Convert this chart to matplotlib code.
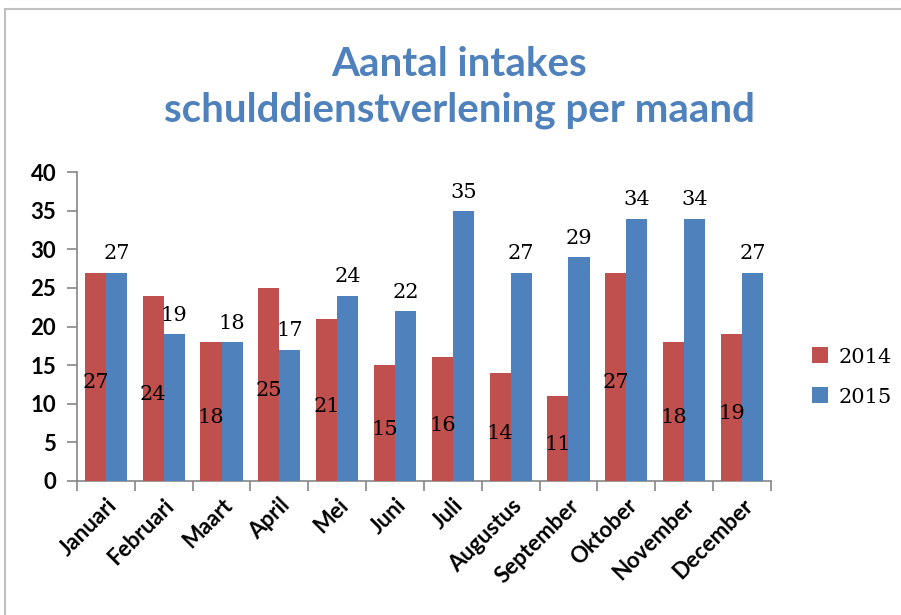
import numpy as np
import matplotlib
matplotlib.use("Agg")
import matplotlib.pyplot as plt
from matplotlib.patches import Rectangle

months = ["Januari", "Februari", "Maart", "April", "Mei", "Juni", "Juli",
          "Augustus", "September", "Oktober", "November", "December"]
vals2014 = [27, 24, 18, 25, 21, 15, 16, 14, 11, 27, 18, 19]
vals2015 = [27, 19, 18, 17, 24, 22, 35, 27, 29, 34, 34, 27]
yticks = [0, 5, 10, 15, 20, 25, 30, 35, 40]

red = "#C0504D"
blue = "#4F81BD"
grey = "#868686"

fig = plt.figure(figsize=(9.01, 6.15), dpi=100)
ax = fig.add_axes([0.0855, 0.218, 0.770, 0.502])

# chart frame (right/bottom edges are cut off in the source)
fig.patches.append(Rectangle((5 / 901, -0.1), 1.2, 1 - 9 / 615 + 0.1,
                             transform=fig.transFigure, fill=False,
                             edgecolor="#BFBFBF", linewidth=1.5))

ind = np.arange(len(months))
width = 0.365
b1 = ax.bar(ind - width / 2, vals2014, width, color=red, label="2014", zorder=3)
b2 = ax.bar(ind + width / 2, vals2015, width, color=blue, label="2015", zorder=3)

lblfont = dict(family="DejaVu Serif", fontsize=15, color="black")
for x, v in zip(ind, vals2014):
    ax.text(x - width / 2, v / 2 - 0.8, str(v), ha="center", va="center", **lblfont)
for x, v in zip(ind, vals2015):
    ax.text(x + width / 2, v + 1.2, str(v), ha="center", va="bottom", **lblfont)

ax.set_xlim(-0.5, 11.5)
ax.set_ylim(0, 40)
ax.set_yticks(yticks)
ax.set_yticklabels([str(t) for t in yticks], family="Lato", fontweight="bold", fontsize=16)
ax.set_xticks(ind)
ax.set_xticks(np.arange(-0.5, 12, 1), minor=True)
ax.set_xticklabels(months, rotation=45, ha="right", rotation_mode="anchor",
                   family="Lato", fontweight="bold", fontsize=16)
ax.tick_params(axis="x", which="major", length=0, pad=10)
ax.tick_params(axis="x", which="minor", length=7, color=grey, width=1.2)
ax.tick_params(axis="y", length=7, color=grey, width=1.2, pad=8)

for s in ["top", "right"]:
    ax.spines[s].set_visible(False)
for s in ["left", "bottom"]:
    ax.spines[s].set_color(grey)
    ax.spines[s].set_linewidth(1.2)

fig.text(0.51, 0.858, "Aantal intakes\nschulddienstverlening per maand",
         ha="center", va="center", color=blue, family="Lato", fontweight="bold",
         fontsize=29, linespacing=1.3)

fig.legend(handles=[b1, b2], labels=["2014", "2015"], loc="center left",
           bbox_to_anchor=(0.88, 0.387), frameon=False, handlelength=0.8,
           handleheight=0.8, handletextpad=0.5, labelspacing=1.0,
           prop=dict(family="DejaVu Serif", size=15))

plt.savefig("out.png", dpi=100)
